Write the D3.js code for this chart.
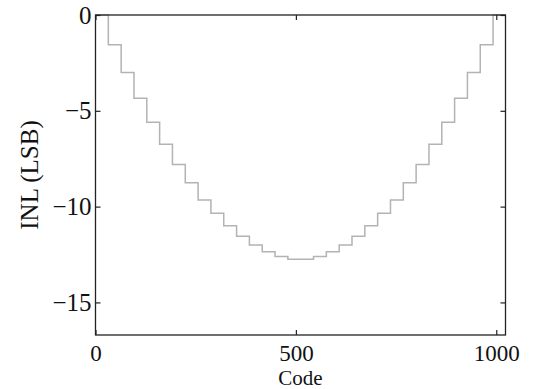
<!DOCTYPE html>
<html>
<head>
<meta charset="utf-8">
<script src="https://cdn.jsdelivr.net/npm/d3@7"></script>
<style>
  body { margin: 0; background: #fff; }
  svg text { font-family: "Liberation Serif", "Times New Roman", serif; fill: #111; }
</style>
</head>
<body>
<svg id="chart" width="542" height="389"></svg>
<script>
// step start codes and INL level of each step (LSB)
const stepCodes = [0, 32, 64, 96, 128, 160, 192, 224, 256, 288, 320, 352, 384, 416, 448, 480,
    512, 544, 576, 608, 640, 672, 704, 736, 768, 800, 832, 864, 896, 928, 960, 992];
const inlLevels = [0, -1.55, -3.0, -4.35, -5.6, -6.75, -7.8, -8.75, -9.65, -10.35, -11.0, -11.55, -12.0, -12.35, -12.6, -12.75,
    -12.75, -12.6, -12.35, -12.0, -11.55, -11.0, -10.35, -9.65, -8.75, -7.8, -6.75, -5.6, -4.35, -3.0, -1.55, 0];
const lastCode = 1023;
const xTicks = [0, 500, 1000];
const yTicks = [0, -5, -10, -15];

const serif = "'Liberation Serif', 'Times New Roman', serif";

const svg = d3.select("#chart");
const margin = { left: 95.5, right: 36.5, top: 15, bottom: 54 };
const width = +svg.attr("width"),
    height = +svg.attr("height");

const x = d3.scaleLinear().domain([0, lastCode]).range([margin.left, width - margin.right]);
const y = d3.scaleLinear().domain([-16.7, 0]).range([height - margin.bottom, margin.top]);

const points = stepCodes.map((c, i) => [c, inlLevels[i]]);
points.push([lastCode, inlLevels[inlLevels.length - 1]]);

const line = d3.line()
    .x(d => x(d[0]))
    .y(d => y(d[1]))
    .curve(d3.curveStepAfter);

svg.append("path")
    .datum(points)
    .attr("fill", "none")
    .attr("stroke", "#b3b3b3")
    .attr("stroke-width", 1.5)
    .attr("d", line);

const tickLen = 5;
const styleAxis = g => {
    g.attr("font-family", serif);
    g.select(".domain").remove();
    g.selectAll("line").attr("stroke", "#222").attr("stroke-width", 1.2);
};

// inward ticks on all four sides
svg.append("g")
    .attr("transform", "translate(0," + y.range()[0] + ")")
    .call(d3.axisBottom(x).tickValues(xTicks).tickSize(-tickLen).tickPadding(9.5).tickFormat(d3.format("d")))
    .call(styleAxis)
    .selectAll("text")
    .attr("font-size", 23);

svg.append("g")
    .attr("transform", "translate(0," + y.range()[1] + ")")
    .call(d3.axisTop(x).tickValues(xTicks).tickSize(-tickLen).tickFormat(""))
    .call(styleAxis);

svg.append("g")
    .attr("transform", "translate(" + x.range()[0] + ",0)")
    .call(d3.axisLeft(y).tickValues(yTicks).tickSize(-tickLen).tickPadding(4)
        .tickFormat(d => d === 0 ? "0" : "\u2212" + Math.abs(d)))
    .call(styleAxis)
    .selectAll("text")
    .attr("font-size", 25);

svg.append("g")
    .attr("transform", "translate(" + x.range()[1] + ",0)")
    .call(d3.axisRight(y).tickValues(yTicks).tickSize(-tickLen).tickFormat(""))
    .call(styleAxis);

svg.append("rect")
    .attr("x", x.range()[0])
    .attr("y", y.range()[1])
    .attr("width", x.range()[1] - x.range()[0])
    .attr("height", y.range()[0] - y.range()[1])
    .attr("fill", "none")
    .attr("stroke", "#222")
    .attr("stroke-width", 1.3);

svg.append("text")
    .attr("x", (x.range()[0] + x.range()[1]) / 2)
    .attr("y", 384.5)
    .attr("text-anchor", "middle")
    .attr("font-family", serif)
    .attr("font-size", 21)
    .text("Code");

svg.append("text")
    .attr("transform", "translate(38," + (y.range()[0] + y.range()[1]) / 2 + ") rotate(-90)")
    .attr("text-anchor", "middle")
    .attr("font-family", serif)
    .attr("font-size", 25)
    .text("INL (LSB)");
</script>
</body>
</html>
